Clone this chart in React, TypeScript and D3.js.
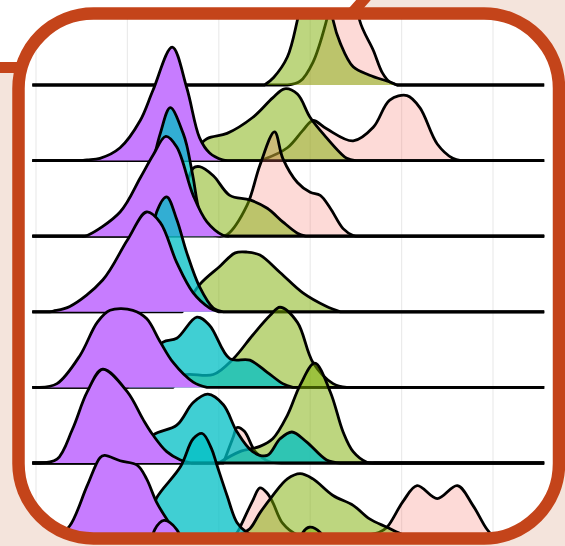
import { useMemo } from 'react';
import * as d3 from 'd3';

const WIDTH = 565;
const HEIGHT = 546;

// x values, grid every 10
const X_TICKS = [0, 10, 20, 30, 40, 50];
const X_EXTENT = [-0.4, 55.6];
const ROWS = [0, 1, 2, 3, 4, 5, 6, 7];

// ridges per row (top to bottom), points are [x, density in row heights]
const pinkRidges: ([number, number][] | null)[] = [
    [[27.5, 0], [28.9, 0.05], [30.3, 0.3], [31.8, 0.86], [33.0, 1.5], [34.0, 1.8], [35.0, 1.5], [35.4, 0.86], [36.9, 0.46], [37.9, 0.16], [38.7, 0.04], [39.5, 0]],
    [[24.5, 0], [24.8, 0.01], [27.5, 0.17], [29.2, 0.4], [30.3, 0.53], [31.8, 0.42], [34.7, 0.26], [36.9, 0.44], [38.7, 0.8], [40.6, 0.86], [42.0, 0.7], [43.9, 0.22], [45.6, 0.03], [46.5, 0]],
    [[20.0, 0], [20.9, 0.02], [23.1, 0.41], [24.5, 0.94], [26.1, 1.38], [27.0, 1.03], [28.6, 0.71], [30.0, 0.58], [31.1, 0.54], [32.2, 0.37], [33.6, 0.1], [34.7, 0.01], [35.5, 0]],
    null,
    null,
    [[20.5, 0], [21.6, 0.35], [22.0, 0.47], [22.8, 0.42], [24.0, 0.15], [25.5, 0.02], [27, 0]],
    [[21.2, 0], [22.0, 0.08], [22.4, 0.17], [23.7, 0.5], [24.5, 0.67], [25.3, 0.6], [25.9, 0.48], [27.0, 0.2], [28.6, 0.05], [30, 0.03], [35, 0.03], [37.5, 0.08], [38.4, 0.15], [40.2, 0.5], [41.7, 0.7], [43.9, 0.53], [46.1, 0.7], [47.8, 0.44], [49.3, 0.13], [50.0, 0.04], [51, 0]],
    null,
];

const greenRidges: ([number, number][] | null)[] = [
    [[25.0, 0], [26.0, 0.1], [27.5, 0.37], [28.6, 0.86], [29.6, 1.5], [30.8, 1.9], [31.8, 1.5], [32.5, 0.86], [33.3, 0.55], [34.7, 0.24], [36.5, 0.13], [38.7, 0.04], [39.5, 0]],
    [[15, 0], [17, 0.1], [18.7, 0.29], [20.9, 0.36], [23.7, 0.57], [25.9, 0.83], [27.2, 0.95], [28.6, 0.88], [30.0, 0.57], [31.8, 0.3], [33.3, 0.1], [34.0, 0.03], [35, 0]],
    [[14, 0], [16, 0.5], [17.2, 0.9], [17.9, 0.92], [19.4, 0.8], [21.2, 0.54], [23.4, 0.48], [25.3, 0.37], [27.0, 0.19], [28.6, 0.04], [29.5, 0]],
    [[16, 0], [17.9, 0.36], [20.1, 0.6], [21.8, 0.78], [23.1, 0.79], [24.5, 0.75], [26.7, 0.52], [29.2, 0.25], [31.8, 0.07], [33.3, 0]],
    [[15, 0], [16.1, 0.16], [19.4, 0.17], [21.6, 0.38], [23.7, 0.69], [25.6, 0.95], [26.7, 1.06], [28.6, 0.86], [30.3, 0.33], [32.5, 0.05], [34, 0]],
    [[20, 0], [22.3, 0.15], [24.5, 0.22], [25.9, 0.32], [27.5, 0.63], [28.9, 1.03], [30.5, 1.32], [32.2, 0.94], [33.6, 0.41], [34.7, 0.15], [36.2, 0.01], [37, 0]],
    [[22, 0], [22.3, 0.05], [23.4, 0.13], [24.5, 0.34], [25.9, 0.57], [27.5, 0.79], [28.9, 0.86], [30.3, 0.79], [32.5, 0.57], [34.7, 0.44], [36.5, 0.26], [38.4, 0.15], [40.2, 0.05], [42, 0.01], [43, 0]],
    [[26, 0], [28, 0.6], [29.2, 1.08], [29.9, 1.15], [31.1, 1.08], [33, 0.6], [35, 0]],
];

const tealRidges: ([number, number][] | null)[] = [
    null,
    null,
    [[11, 0], [12.1, 0.6], [13.6, 1.36], [14.7, 1.7], [16.1, 1.36], [16.5, 1.2], [17.2, 0.77], [17.9, 0.32], [19.0, 0.05], [20.0, 0]],
    [[11, 0], [12.5, 0.8], [13.2, 1.32], [14.3, 1.52], [15.4, 1.22], [16.5, 0.78], [17.9, 0.33], [19.4, 0.05], [20.5, 0]],
    [[10, 0], [12, 0.3], [13.9, 0.6], [15.4, 0.65], [17.6, 0.93], [19.0, 0.82], [21.2, 0.38], [23.4, 0.36], [25.3, 0.2], [27.0, 0.05], [28.1, 0]],
    [[10, 0], [12.8, 0.37], [15.4, 0.5], [17.2, 0.8], [18.8, 0.91], [20.5, 0.77], [22.0, 0.41], [23.7, 0.15], [25.3, 0.1], [26.7, 0.32], [28.0, 0.41], [29.6, 0.28], [31.8, 0.04], [33.3, 0]],
    [[11, 0], [12.5, 0.3], [13.2, 0.54], [15.8, 0.95], [17.2, 1.32], [18.2, 1.39], [19.2, 1.19], [19.8, 0.97], [20.9, 0.57], [22.0, 0.21], [23.1, 0.08], [24.5, 0.01], [25.5, 0]],
    null,
];

const purpleRidges: ([number, number][] | null)[] = [
    null,
    [[5.0, 0], [5.6, 0.01], [7.0, 0.03], [9.2, 0.17], [11.4, 0.53], [12.8, 0.93], [14.9, 1.5], [16.5, 0.96], [17.9, 0.3], [19.0, 0.1], [20.4, 0.01], [21, 0]],
    [[5, 0], [5.6, 0.01], [9.2, 0.32], [11.4, 0.77], [12.8, 1.07], [14.2, 1.32], [15.4, 1.18], [17.2, 0.54], [18.7, 0.19], [20.5, 0.01], [21.2, 0]],
    [[1.5, 0], [1.9, 0.01], [3.7, 0.07], [7.3, 0.42], [10.0, 0.95], [12.1, 1.32], [13.6, 1.18], [15.4, 0.65], [17.2, 0.25], [19.0, 0.05], [20.0, 0]],
    [[0.4, 0], [2.3, 0.05], [4.8, 0.42], [6.7, 0.86], [8.1, 1.02], [10.6, 1.02], [12.1, 0.91], [13.6, 0.6], [15.0, 0.33], [17.2, 0.07], [18.7, 0]],
    [[0.4, 0], [2.3, 0.05], [4.0, 0.45], [5.6, 0.94], [7.3, 1.24], [10.0, 0.94], [11.7, 0.58], [12.8, 0.37], [14.3, 0.15], [15.8, 0.04], [17, 0]],
    [[0.4, 0], [2.3, 0.03], [3.7, 0.17], [5.6, 0.7], [7.0, 1.07], [7.5, 1.1], [9.2, 1.03], [11.1, 0.97], [12.1, 0.79], [13.2, 0.48], [14.3, 0.26], [15.4, 0.08], [16.5, 0.01], [17.5, 0]],
    [[10, 0], [12, 0.6], [13.0, 1.12], [14.0, 1.24], [15.4, 1.12], [17, 0.6], [19, 0]],
];

// drawn back to front inside each row
const GROUPS = [
    { data: pinkRidges, fill: '#F8766D', opacity: 0.27 },
    { data: greenRidges, fill: '#7CAE00', opacity: 0.5 },
    { data: tealRidges, fill: '#00BFC4', opacity: 0.75 },
    { data: purpleRidges, fill: '#C77CFF', opacity: 1 },
];

const FRAME = { x: 18.5, y: 13.5, w: 540.5, h: 525, r: 75 };
const ORANGE = '#C4441A';
const BEIGE = '#F4E4DC';

export default function App() {
    const xScale = useMemo(() => d3.scaleLinear().domain([0, 50]).range([36, 493]), []);
    const rowScale = useMemo(() => d3.scaleLinear().domain([0, 6]).range([85, 538.6]), []);
    const hScale = useMemo(() => d3.scaleLinear().domain([0, 1]).range([0, 75.6]), []);

    const ridges = ROWS.flatMap((row) => {
        const base = rowScale(row);
        const curve = d3.curveCatmullRom.alpha(0.5);
        const area = d3
            .area<[number, number]>()
            .x((d) => xScale(d[0]))
            .y0(base)
            .y1((d) => base - hScale(d[1]))
            .curve(curve);
        const line = d3
            .line<[number, number]>()
            .x((d) => xScale(d[0]))
            .y((d) => base - hScale(d[1]))
            .curve(curve);
        return GROUPS.map((g, gi) => {
            const pts = g.data[row];
            if (!pts) return null;
            // curve over the ridge, straight baseline on both sides
            const ridgeLine = (line(pts) ?? '').replace(/^M/, 'L');
            const outline = `M${xScale(X_EXTENT[0])},${base}${ridgeLine}L${xScale(X_EXTENT[1])},${base}`;
            return (
                <g key={row + '-' + gi}>
                    <path d={area(pts) ?? ''} fill={g.fill} fillOpacity={g.opacity} />
                    <path d={outline} fill="none" stroke="#000" strokeWidth={2.8} strokeLinejoin="round" />
                </g>
            );
        });
    });

    return (
        <svg width={WIDTH} height={HEIGHT} style={{ position: 'absolute', left: 0, top: 0, display: 'block' }}>
            <defs>
                <clipPath id="frame-clip">
                    <rect x={FRAME.x} y={FRAME.y} width={FRAME.w} height={FRAME.h} rx={FRAME.r} ry={FRAME.r} />
                </clipPath>
            </defs>
            <rect width={WIDTH} height={HEIGHT} fill={BEIGE} />
            <path d="M0,0 H364 L330,38 L25,67.5 H0 Z" fill="#fff" />
            <path d="M-5,67.5 H25 L330,38 L367,-4" fill="none" stroke={ORANGE} strokeWidth={11} />
            <rect x={FRAME.x} y={FRAME.y} width={FRAME.w} height={FRAME.h} rx={FRAME.r} ry={FRAME.r} fill="#fff" />
            <g clipPath="url(#frame-clip)">
                {X_TICKS.map((t) => (
                    <line key={t} x1={xScale(t)} x2={xScale(t)} y1={0} y2={HEIGHT} stroke="#EBEBEB" strokeWidth={1.2} />
                ))}
                {ridges}
            </g>
            <rect x={FRAME.x} y={FRAME.y} width={FRAME.w} height={FRAME.h} rx={FRAME.r} ry={FRAME.r} fill="none" stroke={ORANGE} strokeWidth={12.5} />
        </svg>
    );
}
